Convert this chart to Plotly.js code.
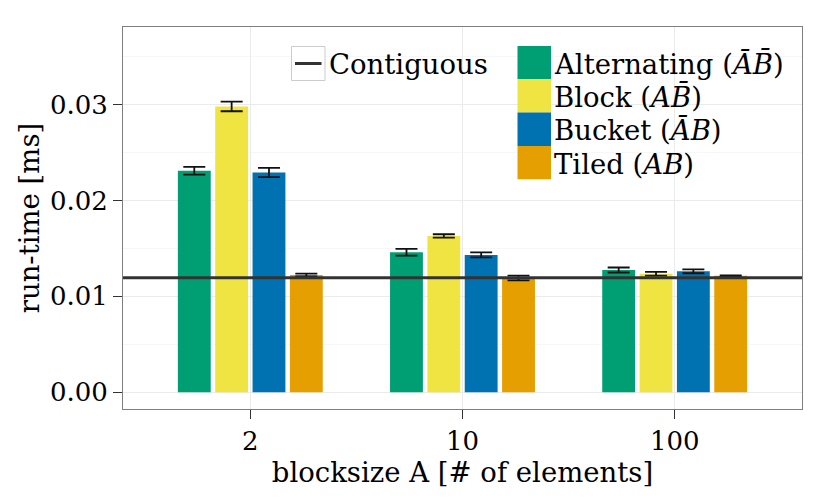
<!DOCTYPE html>
<html>
<head>
<meta charset="utf-8">
<script src="https://cdn.plot.ly/plotly-3.0.1.min.js"></script>
<style>html,body{margin:0;padding:0;background:#fff;}#chart{width:830px;height:498px;}</style>
</head>
<body>
<div id="chart"></div>
<script>
// ---- data ----
const blocksizes = ['2', '10', '100'];
const seriesNames = ['Alternating (<i>A\u0304B\u0304</i>)', 'Block (<i>AB\u0304</i>)', 'Bucket (<i>A\u0304B</i>)', 'Tiled (<i>AB</i>)'];
const alternating = [0.02310, 0.01460, 0.01275];
const alternatingErr = [0.00040, 0.00035, 0.00026];
const block = [0.02981, 0.01630, 0.01236];
const blockErr = [0.00050, 0.00018, 0.00020];
const bucket = [0.02292, 0.01432, 0.01261];
const bucketErr = [0.00048, 0.00026, 0.00020];
const tiled = [0.01223, 0.01192, 0.01215];
const tiledErr = [0.00015, 0.00025, 0.00005];
const contiguous = [0.01194];
const contiguousName = 'Contiguous';
const yTickVals = [0, 0.01, 0.02, 0.03];
const yTickText = ['0.00', '0.01', '0.02', '0.03'];

// ---- styles ----
const colors = ['#009E73', '#F0E442', '#0072B2', '#E69F00'];
const FONT = 'DejaVu Serif, Liberation Serif, serif';
const FS_TICK = 26;
const FS_TEXT = 27.5;

const values = [alternating, block, bucket, tiled];
const errs = [alternatingErr, blockErr, bucketErr, tiledErr];

const traces = values.map((v, i) => ({
  type: 'bar',
  x: blocksizes,
  y: v,
  name: seriesNames[i],
  marker: {color: colors[i], line: {width: 0}},
  error_y: {type: 'data', array: errs[i], visible: true, color: '#111', thickness: 1.8, width: 11},
  showlegend: false,
  hoverinfo: 'skip'
}));

// plot area geometry (px) for legend placement
const W = 830, H = 498;
const M = {l: 123, r: 28, t: 27, b: 89};
const pw = W - M.l - M.r, ph = H - M.t - M.b;
const px = x => (x - M.l) / pw;
const py = y => (H - M.b - y) / ph;

const shapes = [];
const annotations = [];

// Contiguous reference line
shapes.push({type: 'line', xref: 'paper', yref: 'y', x0: 0, x1: 1, y0: contiguous[0], y1: contiguous[0],
  line: {color: '#333333', width: 3}, layer: 'above'});

// custom legend: contiguous
shapes.push({type: 'rect', xref: 'paper', yref: 'paper', x0: px(291.5), x1: px(325), y0: py(80.5), y1: py(46.5),
  line: {color: '#cccccc', width: 1}, fillcolor: '#ffffff', layer: 'above'});
shapes.push({type: 'line', xref: 'paper', yref: 'paper', x0: px(295), x1: px(321.5), y0: py(63.5), y1: py(63.5),
  line: {color: '#333333', width: 3}, layer: 'above'});
annotations.push({xref: 'paper', yref: 'paper', x: px(327), y: py(64), xanchor: 'left', yanchor: 'middle',
  text: contiguousName, showarrow: false, font: {family: FONT, size: FS_TEXT, color: '#000'}});

// custom legend: bars
const keyH = 33.3;
seriesNames.forEach((n, i) => {
  const top = 46 + i * keyH;
  shapes.push({type: 'rect', xref: 'paper', yref: 'paper', x0: px(517.5), x1: px(551), y0: py(top + keyH), y1: py(top),
    line: {width: 0}, fillcolor: colors[i], layer: 'above'});
  annotations.push({xref: 'paper', yref: 'paper', x: px(552), y: py(top + keyH / 2 + 1), xanchor: 'left', yanchor: 'middle',
    text: n, showarrow: false, font: {family: FONT, size: FS_TEXT, color: '#000'}});
});

const layout = {
  width: W, height: H,
  margin: M,
  paper_bgcolor: '#fff', plot_bgcolor: '#fff',
  font: {family: FONT, size: FS_TEXT, color: '#000'},
  barmode: 'group',
  bargap: 0.296,
  bargroupgap: 0.12,
  showlegend: false,
  xaxis: {
    type: 'category',
    range: [-0.6, 2.6],
    showgrid: true, gridcolor: '#ebebeb', gridwidth: 1,
    showline: true, linecolor: '#7f7f7f', linewidth: 1, mirror: true,
    ticks: 'outside', ticklen: 9, tickcolor: '#333', tickwidth: 1.3,
    tickfont: {family: FONT, size: FS_TICK, color: '#000'},
    title: {text: 'blocksize A [# of elements]', font: {family: FONT, size: FS_TEXT, color: '#000'}, standoff: 4},
    zeroline: false, fixedrange: true
  },
  yaxis: {
    range: [-0.00175, 0.0381],
    tickvals: yTickVals, ticktext: yTickText,
    showgrid: true, gridcolor: '#ebebeb', gridwidth: 1,
    minor: {dtick: 0.005, tick0: 0.005, showgrid: true, gridcolor: '#f7f7f7', gridwidth: 1, ticks: ''},
    showline: true, linecolor: '#7f7f7f', linewidth: 1, mirror: true,
    ticks: 'outside', ticklen: 9, tickcolor: '#333', tickwidth: 1.3,
    tickfont: {family: FONT, size: FS_TICK, color: '#000'},
    title: {text: 'run-time [ms]', font: {family: FONT, size: FS_TEXT, color: '#000'}, standoff: 2},
    zeroline: false, fixedrange: true
  },
  shapes: shapes,
  annotations: annotations
};

Plotly.newPlot('chart', traces, layout, {displayModeBar: false, staticPlot: true});
</script>
</body>
</html>
